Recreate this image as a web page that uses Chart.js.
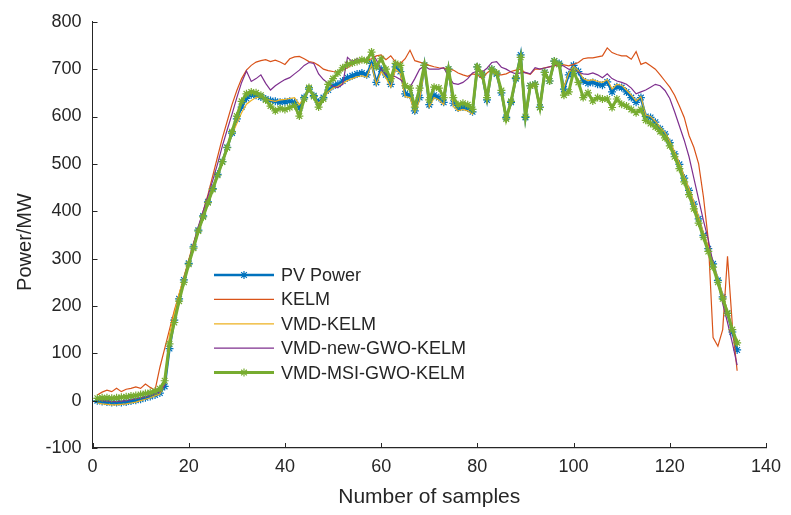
<!DOCTYPE html>
<html>
<head>
<meta charset="utf-8">
<title>PV power forecasting comparison</title>
<script src="https://cdn.jsdelivr.net/npm/chart.js@4.4.1/dist/chart.umd.min.js"></script>
<style>
  html, body { margin: 0; padding: 0; background: #ffffff; }
  #wrap { position: relative; width: 791px; height: 515px; }
</style>
</head>
<body>
<div id="wrap"><canvas id="powerChart"></canvas></div>
<script>
// values, samples 1..134
const pvPower = [
  0, -2, -3, -4, -4, -4, -3, -1, 1, 3, 6, 9, 12, 16,
  30, 110, 170, 215, 255, 290, 325, 360, 390, 420, 448, 478, 505, 535, 565, 595, 620,
  638, 646, 645, 641, 637, 634, 632, 630, 631, 632, 630, 618, 640, 658, 644, 630, 640, 656, 665, 668, 675, 682, 686, 690, 692, 688, 712, 672,
  700, 688, 668, 705, 695, 648, 645, 612, 640, 708, 625, 645, 640, 630, 700, 628, 618, 620, 618, 610, 705, 688, 635, 700, 690, 650, 598, 630, 680, 730,
  598, 665, 668, 620, 693, 675, 717, 712, 658, 688, 708, 695, 675, 670, 672, 668, 666, 673, 652, 663, 661, 652, 640, 630, 640, 600,
  598, 588, 574, 563, 545, 521, 499, 470, 444, 415, 384, 349, 321, 289, 254, 219, 184, 145, 107,
];
const kelm = [
  12, 18, 22, 19, 26, 19, 24, 26, 29, 26, 35, 28, 22, 70,
  110, 150, 190, 225, 260, 295, 330, 365, 400, 435, 475, 515, 555, 590, 625, 655, 680,
  698, 708, 715, 718, 720, 716, 719, 715, 710, 722, 726, 727, 722, 716, 714, 708, 700, 697, 695, 694, 698, 703, 710, 714, 716, 718, 722, 728,
  730, 720, 728, 715, 712, 722, 740, 718, 715, 712, 708, 705, 703, 702, 700, 698, 692, 688, 685, 690, 688, 680, 692, 700, 688, 688, 690, 695, 698, 700,
  692, 689, 700, 700, 703, 705, 707, 710, 709, 707, 710, 714, 722, 724, 724, 726, 728, 745, 735, 731, 728, 728, 721, 737, 710, 714,
  707, 700, 688, 675, 662, 645, 622, 598, 560, 535, 500, 430, 340, 133, 115, 150, 305, 160, 63,
];
const vmdKelm = [
  -5, -7, -8, -9, -9, -8, -7, -5, -3, 0, 3, 6, 10, 14,
  35, 140, 185, 225, 262, 298, 333, 365, 395, 425, 452, 480, 508, 536, 562, 585, 608,
  626, 634, 640, 642, 638, 634, 632, 635, 636, 638, 640, 625, 640, 655, 642, 628, 638, 652, 660, 664, 670, 676, 680, 684, 686, 683, 710, 668,
  695, 682, 662, 700, 690, 642, 640, 608, 635, 702, 620, 640, 635, 625, 695, 622, 612, 615, 612, 605, 700, 685, 630, 695, 688, 645, 595, 626, 676, 722,
  595, 660, 664, 616, 690, 672, 712, 708, 662, 692, 706, 697, 680, 676, 678, 674, 672, 678, 658, 668, 666, 656, 645, 633, 642, 603,
  600, 590, 577, 566, 548, 525, 502, 474, 448, 420, 388, 354, 325, 292, 258, 224, 190, 152, 115,
];
const vmdNewGwoKelm = [
  2, 0, -1, -2, -2, -1, 0, 2, 4, 6, 8, 11, 14, 18,
  32, 115, 170, 215, 258, 295, 332, 368, 400, 432, 465, 500, 538, 572, 605, 640, 672,
  696, 674, 680, 688, 670, 656, 665, 672, 678, 682, 690, 698, 708, 714, 712, 690, 678, 670, 664, 661, 668, 725, 716, 722, 718, 722, 735, 720,
  700, 690, 686, 684, 678, 668, 662, 680, 700, 707, 700, 700, 700, 703, 685, 670, 668, 672, 680, 692, 696, 694, 702, 714, 716, 704, 700, 694, 690, 692,
  693, 690, 703, 700, 702, 705, 708, 712, 706, 700, 698, 694, 690, 689, 692, 688, 682, 690, 680, 675, 672, 668, 660, 648, 652, 656,
  662, 668, 665, 655, 638, 610, 580, 550, 515, 470, 425, 380, 340, 290, 250, 205, 165, 122, 75,
];
const vmdMsiGwoKelm = [
  5, 6, 6, 5, 6, 7, 8, 10, 11, 13, 15, 17, 20, 25,
  42, 120, 165, 210, 250, 288, 322, 358, 388, 418, 446, 476, 504, 534, 568, 601, 632,
  648, 652, 650, 645, 635, 622, 612, 617, 615, 619, 623, 601, 637, 661, 642, 620, 637, 668, 680, 692, 703, 710, 713, 716, 720, 718, 736, 705,
  722, 700, 680, 712, 708, 665, 660, 620, 660, 708, 635, 662, 660, 640, 700, 640, 625, 628, 625, 615, 705, 690, 640, 700, 692, 655, 595, 632, 682, 725,
  600, 665, 668, 619, 693, 675, 717, 710, 645, 652, 695, 672, 640, 650, 633, 640, 637, 637, 619, 637, 626, 622, 615, 608, 615, 592,
  585, 578, 568, 555, 538, 515, 490, 462, 435, 405, 375, 345, 315, 282, 250, 215, 185, 150, 122,
];
const seriesNames = ["PV Power", "KELM", "VMD-KELM", "VMD-new-GWO-KELM", "VMD-MSI-GWO-KELM"];
const xTicks = [0, 20, 40, 60, 80, 100, 120, 140];
const yTicks = [-100, 0, 100, 200, 300, 400, 500, 600, 700, 800];

const palette = {
  blue: "#0072BD",
  orange: "#D95319",
  yellow: "#EDB120",
  purple: "#7E2F8E",
  green: "#77AC30",
  axis: "#262626",
  text: "#262626",
};
const fontFamily = '"Liberation Sans", Arial, sans-serif';

const allSeries = [pvPower, kelm, vmdKelm, vmdNewGwoKelm, vmdMsiGwoKelm];
allSeries.forEach((s, i) => {
  if (s.length !== 134) throw new Error(seriesNames[i] + " has " + s.length + " points");
});

const sampleNo = pvPower.map((_, i) => i + 1);
const toPoints = (values) => values.map((v, i) => ({ x: sampleNo[i], y: v }));

function lineSet(label, values, color, width, order, withStars) {
  return {
    label,
    data: toPoints(values),
    borderColor: color,
    backgroundColor: color,
    borderWidth: width,
    tension: 0,
    fill: false,
    order,
    pointStyle: "star",
    pointRadius: withStars ? 4 : 0,
    pointBorderWidth: 1.2,
    pointBorderColor: color,
    pointHoverRadius: 0,
  };
}

Chart.defaults.font.family = fontFamily;
Chart.defaults.color = palette.text;

// MATLAB style ticks pointing into the plot, plus the y label
const innerTicks = {
  id: "innerTicks",
  afterDraw(chart) {
    const { ctx, chartArea, scales } = chart;
    ctx.save();
    ctx.strokeStyle = palette.axis;
    ctx.lineWidth = 1;
    ctx.beginPath();
    xTicks.forEach((t) => {
      const px = Math.round(scales.x.getPixelForValue(t)) + 0.5;
      ctx.moveTo(px, chartArea.bottom);
      ctx.lineTo(px, chartArea.bottom - 5);
    });
    yTicks.forEach((t) => {
      const py = Math.round(scales.y.getPixelForValue(t)) + 0.5;
      ctx.moveTo(chartArea.left, py);
      ctx.lineTo(chartArea.left + 5, py);
    });
    ctx.stroke();

    ctx.translate(25, 242);
    ctx.rotate(-Math.PI / 2);
    ctx.font = "20px " + fontFamily;
    ctx.fillStyle = palette.text;
    ctx.textAlign = "center";
    ctx.textBaseline = "middle";
    ctx.fillText("Power/MW", 0, 0);
    ctx.restore();
  },
};

// legend without a box, inside the plot like the original
const insetLegend = {
  id: "insetLegend",
  afterDraw(chart) {
    const { ctx } = chart;
    const x0 = 214, x1 = 274, textX = 281, top = 275, gap = 24.4;
    ctx.save();
    ctx.font = "18px " + fontFamily;
    ctx.textBaseline = "middle";
    ctx.textAlign = "left";
    chart.data.datasets.forEach((ds, i) => {
      const y = top + i * gap;
      ctx.strokeStyle = ds.borderColor;
      ctx.fillStyle = ds.borderColor;
      ctx.lineWidth = ds.borderWidth;
      ctx.beginPath();
      ctx.moveTo(x0, y);
      ctx.lineTo(x1, y);
      ctx.stroke();
      if (ds.pointRadius > 0) {
        ctx.lineWidth = ds.pointBorderWidth;
        Chart.helpers.drawPoint(ctx, { pointStyle: "star", radius: ds.pointRadius, borderWidth: ds.pointBorderWidth, rotation: 0 }, (x0 + x1) / 2, y);
      }
      ctx.fillStyle = palette.text;
      ctx.fillText(ds.label, textX, y + 1);
    });
    ctx.restore();
  },
};

new Chart(document.getElementById("powerChart"), {
  type: "line",
  data: {
    datasets: [
      lineSet(seriesNames[0], pvPower, palette.blue, 2.5, 5, true),
      lineSet(seriesNames[1], kelm, palette.orange, 1.2, 4, false),
      lineSet(seriesNames[2], vmdKelm, palette.yellow, 1.2, 3, false),
      lineSet(seriesNames[3], vmdNewGwoKelm, palette.purple, 1.2, 2, false),
      lineSet(seriesNames[4], vmdMsiGwoKelm, palette.green, 3, 1, true),
    ],
  },
  options: {
    responsive: true,
    maintainAspectRatio: false,
    animation: false,
    events: [],
    layout: { padding: { left: 0, top: 21, right: 25, bottom: 0 } },
    plugins: {
      legend: { display: false },
      tooltip: { enabled: false },
    },
    scales: {
      x: {
        type: "linear",
        min: 0,
        max: 140,
        afterFit: (scale) => { scale.height = 67; },
        afterBuildTicks: (scale) => { scale.ticks = xTicks.map((v) => ({ value: v })); },
        grid: { display: false, drawTicks: false },
        border: { display: true, color: palette.axis, width: 1.2 },
        ticks: { font: { size: 18 }, color: palette.text, padding: 8, maxRotation: 0 },
        title: {
          display: true,
          text: "Number of samples",
          font: { size: 21 },
          color: palette.text,
          padding: { top: 0, bottom: 5 },
        },
      },
      y: {
        min: -100,
        max: 800,
        afterFit: (scale) => { scale.width = 92.5; },
        afterBuildTicks: (scale) => { scale.ticks = yTicks.map((v) => ({ value: v })); },
        grid: { display: false, drawTicks: false },
        border: { display: true, color: palette.axis, width: 1 },
        ticks: { font: { size: 18 }, color: palette.text, padding: 11 },
        title: { display: false },
      },
    },
  },
  plugins: [innerTicks, insetLegend],
});
</script>
</body>
</html>
